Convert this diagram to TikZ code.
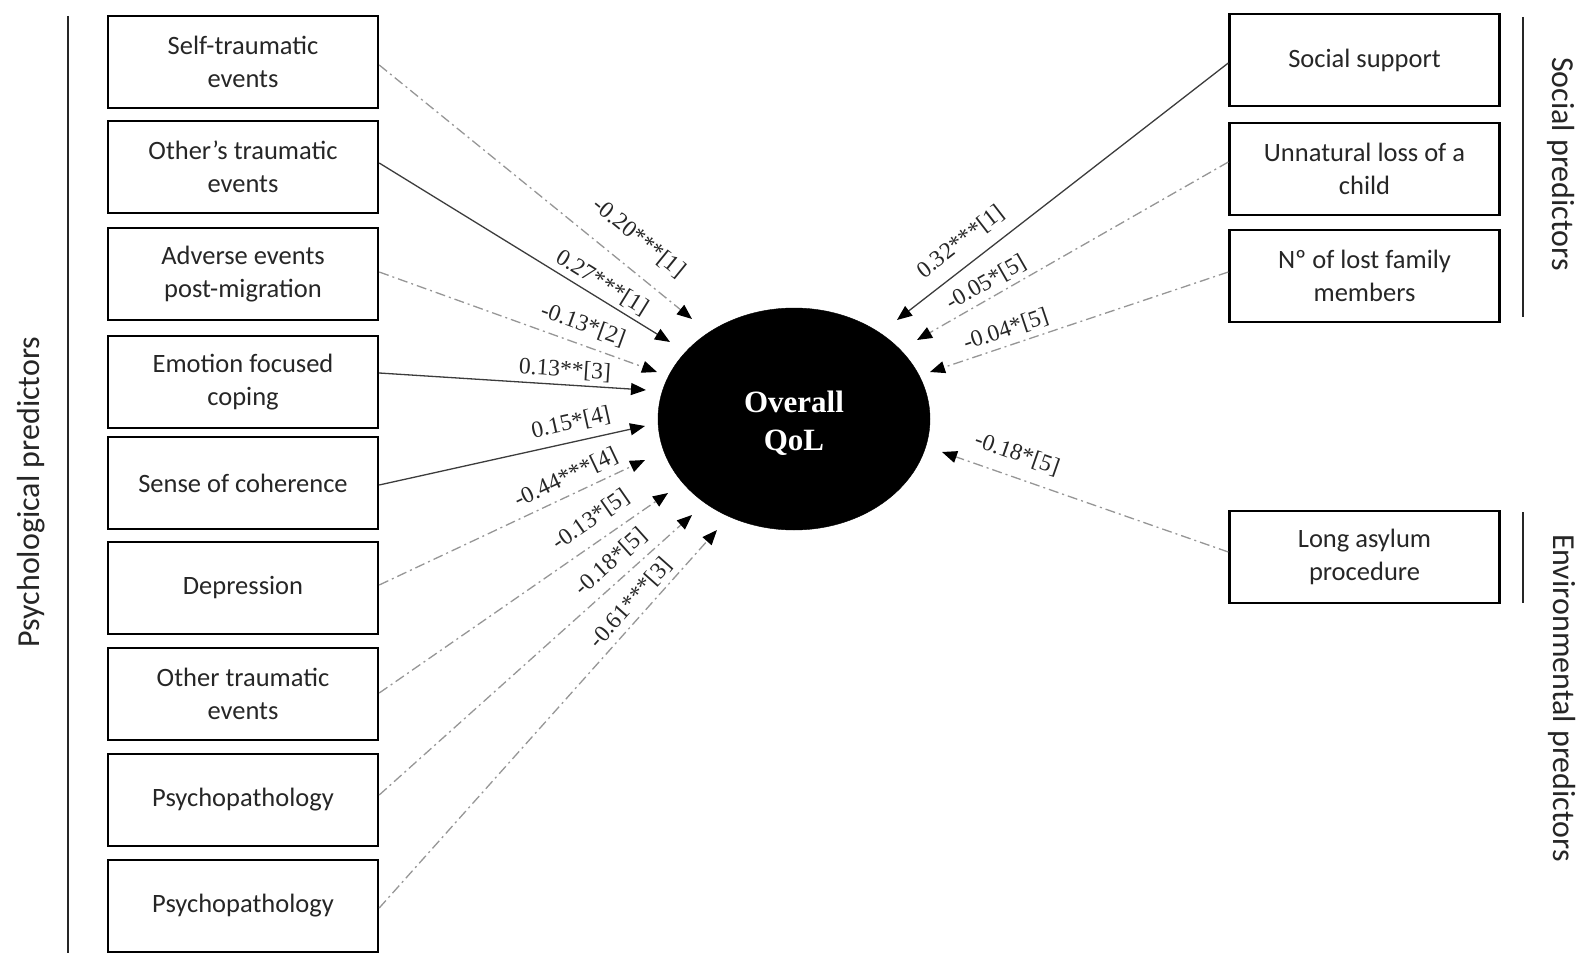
\documentclass[tikz,border=0pt]{standalone}
\usepackage{fontspec}
\setmainfont{Liberation Serif}
\newfontfamily\boxfont{Carlito}
\usetikzlibrary{arrows.meta,shapes.geometric}
\definecolor{dashgray}{RGB}{150,150,150}
\definecolor{solidgray}{RGB}{60,60,60}
\begin{document}
\begin{tikzpicture}[x=1pt,y=-1pt,
  predbox/.style={draw=black,line width=2.4pt,minimum width=270pt,minimum height=92pt,
    inner sep=0pt,align=center,font=\boxfont\fontsize{26.5}{33}\selectfont,text=black!85},
  grouplab/.style={font=\boxfont\fontsize{32}{38}\selectfont,text=black!85,inner sep=0pt},
  groupline/.style={line width=2.6pt,black!85},
  lab/.style={font=\fontsize{23.5}{26}\selectfont,inner sep=0pt,text=black!85},
  tipA/.style={-{Triangle[length=15pt,width=12pt,color=black]}},
  solidarrow/.style={tipA,draw=solidgray,line width=1.3pt},
  dasharrow/.style={tipA,draw=dashgray,line width=1.3pt,dash pattern=on 10pt off 4pt on 2pt off 4pt}
]
\useasboundingbox (0,0) rectangle (1595,960);

% group lines
\coordinate (gl1) at (68,16);
\coordinate (gl2) at (68,953);
\coordinate (gs1) at (1523,17);
\coordinate (gs2) at (1523,317);
\coordinate (ge1) at (1523,512);
\coordinate (ge2) at (1523,603);
\draw[groupline] (gl1) -- (gl2);
\draw[groupline] (gs1) -- (gs2);
\draw[groupline] (ge1) -- (ge2);

\node[grouplab,rotate=90] (gpsy) at (31,492) {Psychological predictors};
\node[grouplab,rotate=-90] (gsoc) at (1561,164) {Social predictors};
\node[grouplab,rotate=-90] (genv) at (1562,698) {Environmental predictors};

% left boxes
\node[predbox] (b1) at (243,62) {Self-traumatic\\events};
\node[predbox] (b2) at (243,167) {Other’s traumatic\\events};
\node[predbox] (b3) at (243,274) {Adverse events\\post-migration};
\node[predbox] (b4) at (243,382) {Emotion focused\\coping};
\node[predbox] (b5) at (243,483) {Sense of coherence};
\node[predbox] (b6) at (243,588) {Depression};
\node[predbox] (b7) at (243,694) {Other traumatic\\events};
\node[predbox] (b8) at (243,800) {Psychopathology};
\node[predbox] (b9) at (243,906) {Psychopathology};

% right boxes
\node[predbox] (r1) at (1364.5,60) {Social support};
\node[predbox] (r2) at (1364.5,169) {Unnatural loss of a\\child};
\node[predbox] (r3) at (1364.5,276) {Nº of lost family\\members};
\node[predbox] (r4) at (1364.5,557) {Long asylum\\procedure};

% outcome
\node[ellipse,fill=black,draw=black,minimum width=272pt,minimum height=222pt,inner sep=0pt] (qol) at (794,419) {};
\node[align=center,text=white,inner sep=0pt,font=\bfseries\fontsize{31}{38}\selectfont] (qoltext) at (794,423) {Overall\\QoL};

% arrow tips
\coordinate (t1) at (692,319);
\coordinate (t2) at (670,342);
\coordinate (t3) at (657,372);
\coordinate (t4) at (646,390);
\coordinate (t5) at (645,426);
\coordinate (t6) at (645,460);
\coordinate (t7) at (668,493);
\coordinate (t8) at (692,515);
\coordinate (t9) at (717,530);
\coordinate (u1) at (897,320);
\coordinate (u2) at (917,340);
\coordinate (u3) at (930,372);
\coordinate (u4) at (942,452);

\draw[dasharrow] ([yshift=-3pt]b1.east) -- (t1);
\draw[solidarrow] ([yshift=4pt]b2.east) -- (t2);
\draw[dasharrow] ([yshift=2pt]b3.east) -- (t3);
\draw[solidarrow] ([yshift=9pt]b4.east) -- (t4);
\draw[solidarrow] ([yshift=-2pt]b5.east) -- (t5);
\draw[dasharrow] ([yshift=3pt]b6.east) -- (t6);
\draw[dasharrow] ([yshift=1pt]b7.east) -- (t7);
\draw[dasharrow] ([yshift=5pt]b8.east) -- (t8);
\draw[dasharrow] ([yshift=-2pt]b9.east) -- (t9);
\draw[solidarrow] ([yshift=-3pt]r1.west) -- (u1);
\draw[dasharrow] ([yshift=7pt]r2.west) -- (u2);
\draw[dasharrow] ([yshift=4pt]r3.west) -- (u3);
\draw[dasharrow] ([yshift=5pt]r4.west) -- (u4);

% coefficient labels
\node[lab,rotate=-39.1] (l1) at (639,238) {-0.20***[1]};
\node[lab,rotate=-31.7] (l2) at (602,283) {0.27***[1]};
\node[lab,rotate=-19.9] (l3) at (583,325) {-0.13*[2]};
\node[lab,rotate=-3.7] (l4) at (565,370) {0.13**[3]};
\node[lab,rotate=12.6] (l5) at (571,423) {0.15*[4]};
\node[lab,rotate=25.3] (l6) at (566,478) {-0.44***[4]};
\node[lab,rotate=34.8] (l7) at (591,520) {-0.13*[5]};
\node[lab,rotate=41.9] (l8) at (611,562) {-0.18*[5]};
\node[lab,rotate=48.3] (l9) at (631,603) {-0.61***[3]};
\node[lab,rotate=37.8] (m1) at (961,242) {0.32***[1]};
\node[lab,rotate=29.8] (m2) at (986,283) {-0.05*[5]};
\node[lab,rotate=18.5] (m3) at (1006,330) {-0.04*[5]};
\node[lab,rotate=-19.3] (m4) at (1017,454) {-0.18*[5]};
\end{tikzpicture}
\end{document}
